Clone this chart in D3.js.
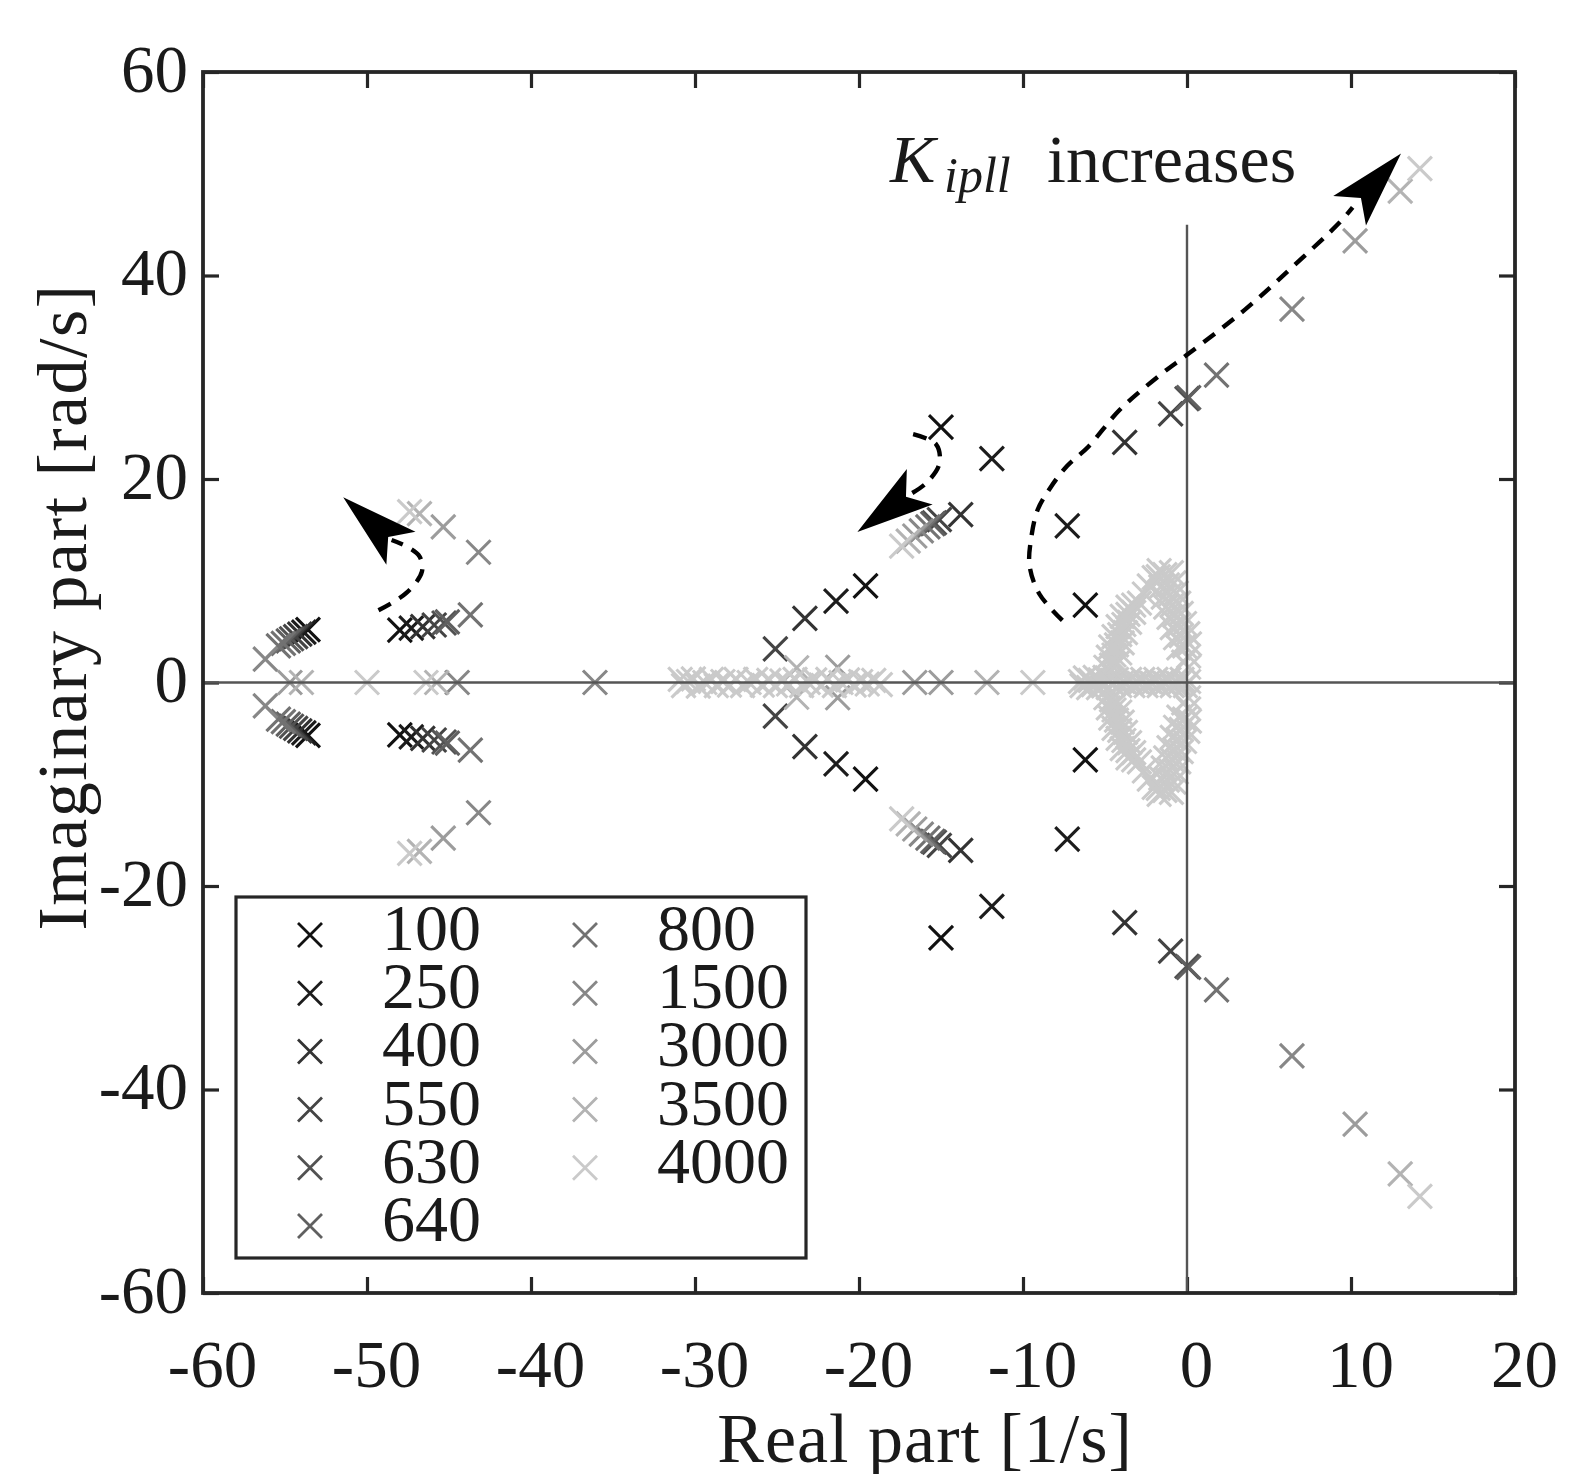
<!DOCTYPE html>
<html>
<head>
<meta charset="utf-8">
<script src="https://cdn.jsdelivr.net/npm/d3@7"></script>
<style>
body { margin: 0; background: #fff; }
text { font-family: "Liberation Serif", "DejaVu Serif", serif; fill: #1a1a1a; }
</style>
</head>
<body>
<div id="chart"></div>
<script>
// gains and the grey used for each
var gains = ["100", "250", "400", "550", "630", "640", "800", "1500", "3000", "3500", "4000"];
var shades = ["#111111", "#1c1c1c", "#333333", "#444444", "#525252", "#606060", "#727272", "#878787", "#9c9c9c", "#b3b3b3", "#cacaca"];

var xTicks = [-60, -50, -40, -30, -20, -10, 0, 10, 20];
var yTicks = [-60, -40, -20, 0, 20, 40, 60];

// closed loop poles [real, imag]
var p100 = [[-53.6, 5.2], [-53.6, -5.2], [-48.0, 5.15], [-48.0, -5.15], [-19.6, 9.5], [-19.6, -9.5],
  [-15.0, 25.1], [-15.0, -25.1], [-6.2, 7.6], [-6.2, -7.6]];
var p250 = [[-53.85, 4.95], [-53.85, -4.95], [-47.3, 5.35], [-47.3, -5.35], [-21.4, 8.0], [-21.4, -8.0],
  [-11.9, 22.0], [-11.9, -22.0], [-7.3, 15.4], [-7.3, -15.4]];
var p400 = [[-54.1, 4.75], [-54.1, -4.75], [-46.6, 5.5], [-46.6, -5.5], [-23.3, 6.3], [-23.3, -6.3],
  [-13.8, 16.5], [-13.8, -16.5], [-3.8, 23.6], [-3.8, -23.6]];
var p550 = [[-54.35, 4.5], [-54.35, -4.5], [-45.9, 5.65], [-45.9, -5.65], [-25.1, 3.3], [-25.1, -3.3],
  [-15.1, 16.0], [-15.1, -16.0], [-1.0, 26.4], [-1.0, -26.4]];
var p630 = [[-54.6, 4.3], [-54.6, -4.3], [-45.3, 5.85], [-45.3, -5.85], [-15.4, 15.7], [-15.4, -15.7],
  [0.0, 27.9], [0.0, -27.9]];
var p640 = [[-54.8, 4.1], [-54.8, -4.1], [-45.1, 5.95], [-45.1, -5.95], [-15.5, 15.6], [-15.5, -15.6],
  [0.1, 28.0], [0.1, -28.0]];
var p800 = [[-55.1, 3.85], [-55.1, -3.85], [-55.4, 3.6], [-55.4, -3.6], [-43.7, 6.65], [-43.7, -6.65],
  [-15.8, 15.3], [-15.8, -15.3], [1.8, 30.2], [1.8, -30.2]];
var p1500 = [[-56.2, 2.3], [-56.2, -2.3], [-44.5, 0], [-43.2, 12.8], [-43.2, -12.8], [-36.1, 0],
  [-16.2, 14.9], [-16.2, -14.9], [6.4, 36.7], [6.4, -36.7]];
var p3000 = [[-54.7, 0], [-45.35, 15.3], [-45.35, -15.3], [-16.6, 14.4], [-16.6, -14.4], [-21.3, 1.5],
  [-21.3, -1.5], [-16.6, 0], [-15.0, 0], [10.25, 43.4], [10.25, -43.4]];
var p3500 = [[-54.0, 0], [-45.75, 0], [-46.8, 16.6], [-46.8, -16.6], [-17.0, 13.9], [-17.0, -13.9],
  [-23.8, 1.45], [-23.8, -1.45], [-12.2, 0], [13.0, 48.3], [13.0, -48.3]];
var p4000 = [[-50.0, 0], [-46.4, 0], [-47.4, 16.8], [-47.4, -16.8], [-17.4, 13.4], [-17.4, -13.4],
  [-9.4, 0], [14.2, 50.5], [14.2, -50.5]];
// the smear of poles on the real axis between -31 and -18
var p4000Real = [[-30.9, 0.3], [-30.7, -0.3], [-30.4, 0.1], [-30.1, 0.35], [-29.8, -0.35], [-29.4, 0],
  [-29.0, 0.3], [-28.7, -0.3], [-28.3, 0.1], [-27.9, -0.25], [-27.5, 0.3], [-27.1, -0.3], [-26.7, 0],
  [-26.3, 0.3], [-25.9, -0.25], [-25.5, 0.2], [-25.1, -0.3], [-24.7, 0.15], [-24.3, -0.15], [-23.9, 0.3],
  [-23.5, -0.3], [-23.1, 0], [-22.7, 0.25], [-22.3, -0.25], [-21.9, 0.3], [-21.5, -0.3], [-21.1, 0],
  [-20.7, 0.25], [-20.3, -0.25], [-19.9, 0.1], [-19.5, -0.15], [-19.1, 0.2], [-18.7, -0.2]];
// the two lobes of poles next to the origin, upper half
var p4000LoopUp = [
  [-6.5, 0.1], [-6.2, 0.45], [-5.9, 0.2], [-5.6, 0.5], [-5.3, 0.25], [-5.0, 0.5], [-4.7, 0.2], [-4.3, 0.3],
  [-3.9, 0.1], [-3.5, 0.3], [-3.1, 0.1], [-2.7, 0.3], [-2.3, 0.1], [-1.9, 0.3], [-1.5, 0.1], [-1.1, 0.3],
  [-0.7, 0.1], [-0.3, 0.3], [0.1, 0.1],
  [-4.95, 1.5], [-4.8, 2.5], [-4.65, 3.5], [-4.45, 4.5], [-4.2, 5.5], [-3.95, 6.5], [-3.6, 7.4],
  [-4.6, 1.7], [-4.45, 2.7], [-4.3, 3.7], [-4.1, 4.7], [-3.85, 5.7], [-3.6, 6.7], [-3.25, 7.6],
  [-4.25, 1.9], [-4.1, 2.9], [-3.95, 3.9], [-3.75, 4.9], [-3.5, 5.9], [-3.25, 6.9], [-2.9, 7.8],
  [-2.6, 8.7], [-2.3, 9.5], [-2.0, 10.3], [-1.7, 11.0],
  [-1.75, 10.4], [-1.6, 9.4], [-1.45, 8.4], [-1.3, 7.4], [-1.1, 6.4], [-0.9, 5.4], [-0.7, 4.4], [-0.5, 3.4],
  [-1.35, 10.6], [-1.2, 9.6], [-1.05, 8.6], [-0.9, 7.6], [-0.75, 6.6], [-0.55, 5.6], [-0.35, 4.6], [-0.15, 3.6],
  [-0.95, 10.8], [-0.8, 9.8], [-0.65, 8.8], [-0.5, 7.8], [-0.35, 6.8], [-0.15, 5.8], [0.05, 4.8], [0.15, 3.8],
  [0.1, 2.6], [0.1, 1.5], [-0.2, 2.0]];
// and lower half
var p4000LoopDown = [
  [-6.4, -0.3], [-6.0, -0.5], [-5.7, -0.2], [-5.4, -0.5], [-5.1, -0.3], [-4.8, -0.5], [-4.5, -0.2], [-4.1, -0.3],
  [-3.7, -0.1], [-3.3, -0.3], [-2.9, -0.1], [-2.5, -0.3], [-2.1, -0.1], [-1.7, -0.3], [-1.3, -0.1], [-0.9, -0.3],
  [-0.5, -0.1], [-0.1, -0.3],
  [-4.95, -1.5], [-4.8, -2.5], [-4.65, -3.5], [-4.45, -4.5], [-4.2, -5.5], [-3.95, -6.5], [-3.6, -7.4],
  [-4.6, -1.7], [-4.45, -2.7], [-4.3, -3.7], [-4.1, -4.7], [-3.85, -5.7], [-3.6, -6.7], [-3.25, -7.6],
  [-4.25, -1.9], [-4.1, -2.9], [-3.95, -3.9], [-3.75, -4.9], [-3.5, -5.9], [-3.25, -6.9], [-2.9, -7.8],
  [-2.6, -8.7], [-2.3, -9.5], [-2.0, -10.3], [-1.7, -11.0],
  [-1.75, -10.4], [-1.6, -9.4], [-1.45, -8.4], [-1.3, -7.4], [-1.1, -6.4], [-0.9, -5.4], [-0.7, -4.4], [-0.5, -3.4],
  [-1.35, -10.6], [-1.2, -9.6], [-1.05, -8.6], [-0.9, -7.6], [-0.75, -6.6], [-0.55, -5.6], [-0.35, -4.6], [-0.15, -3.6],
  [-0.95, -10.8], [-0.8, -9.8], [-0.65, -8.8], [-0.5, -7.8], [-0.35, -6.8], [-0.15, -5.8], [0.05, -4.8], [0.15, -3.8],
  [0.1, -2.6], [0.1, -1.5], [-0.2, -2.0]];

var poles = [p100, p250, p400, p550, p630, p640, p800, p1500, p3000, p3500,
  p4000.concat(p4000Real, p4000LoopUp, p4000LoopDown)];

// dashed "K increases" arrows, in data units (last point is the arrow tip)
var arrowLeft = [[-49.3, 7.1], [-47.6, 8.8], [-46.65, 10.9], [-46.8, 12.4], [-47.5, 13.3], [-48.5, 14.0], [-51.45, 18.2]];
var arrowMid = [[-16.7, 24.4], [-15.3, 23.4], [-15.1, 21.5], [-15.9, 19.6], [-17.1, 18.3], [-20.1, 14.8]];
var arrowRight = [[-7.6, 6.1], [-9.0, 8.7], [-9.6, 11.5], [-9.5, 14.2], [-9.1, 17.0], [-8.35, 19.1], [-7.3, 21.3],
  [-6.0, 23.2], [-4.1, 26.8], [-1.5, 30.4], [0, 32.2], [3.5, 36.6], [6.4, 40.8], [9.3, 45.2], [10.1, 46.7], [13.05, 52.0]];

var W = 1571, H = 1474;
var svg = d3.select("#chart").append("svg")
  .attr("width", W)
  .attr("height", H);

var x = d3.scaleLinear().domain([-60, 20]).range([203, 1515]);
var y = d3.scaleLinear().domain([-60, 60]).range([1293, 72]);

var cross = "M-12,-12L12,12M-12,12L12,-12";

// ticks on all four sides, pointing in
var fmt = function(d){ return String(d); };
var xAxis = svg.append("g").attr("transform", "translate(0,1293)")
  .call(d3.axisBottom(x).tickValues(xTicks).tickSizeInner(-16).tickSizeOuter(0).tickPadding(46).tickFormat(fmt));
xAxis.selectAll("text").attr("dx", 9).style("font-size", "67px");
var yAxis = svg.append("g").attr("transform", "translate(203,0)")
  .call(d3.axisLeft(y).tickValues(yTicks).tickSizeInner(-16).tickSizeOuter(0).tickPadding(15).tickFormat(fmt));
yAxis.selectAll("text").attr("dy", 19).style("font-size", "67px");
svg.append("g").attr("transform", "translate(0,72)")
  .call(d3.axisTop(x).tickValues(xTicks).tickSizeInner(-16).tickSizeOuter(0).tickFormat(""));
svg.append("g").attr("transform", "translate(1515,0)")
  .call(d3.axisRight(y).tickValues(yTicks).tickSizeInner(-16).tickSizeOuter(0).tickFormat(""));
svg.selectAll(".domain").remove();
svg.selectAll(".tick line").attr("stroke", "#262626").attr("stroke-width", 3.2);
svg.selectAll(".tick text").attr("fill", "#1a1a1a").style("font-family", "'Liberation Serif', serif");

// pole markers, low gain first so the light ones sit on top
var plot = svg.append("g");
poles.forEach(function(set, i){
  plot.append("g")
    .selectAll("path")
    .data(set)
    .join("path")
    .attr("d", cross)
    .attr("transform", function(d){ return "translate(" + x(d[0]) + "," + y(d[1]) + ")"; })
    .attr("fill", "none")
    .attr("stroke", shades[i])
    .attr("stroke-width", 3.1);
});

// real and imaginary axes
svg.append("line")
  .attr("x1", x(-60)).attr("x2", x(20))
  .attr("y1", y(0)).attr("y2", y(0))
  .attr("stroke", "#555").attr("stroke-width", 2.4);
svg.append("line")
  .attr("x1", x(0)).attr("x2", x(0))
  .attr("y1", y(-60)).attr("y2", y(45))
  .attr("stroke", "#555").attr("stroke-width", 2.4);

// arrows
var curve = d3.line()
  .x(function(d){ return x(d[0]); })
  .y(function(d){ return y(d[1]); })
  .curve(d3.curveCatmullRom);

function drawArrow(pts){
  var tip = pts[pts.length - 1];
  var tx = x(tip[0]), ty = y(tip[1]);
  var prev = pts[pts.length - 2];
  var px = x(prev[0]), py = y(prev[1]);
  var len = Math.hypot(tx - px, ty - py);
  var ux = (tx - px) / len, uy = (ty - py) / len;
  var nx = -uy, ny = ux;
  var L = 77, Wd = 22, N = 60;
  svg.append("path")
    .attr("d", curve(pts.slice(0, pts.length - 1)))
    .attr("fill", "none")
    .attr("stroke", "#000")
    .attr("stroke-width", 4.4)
    .attr("stroke-dasharray", "14,10");
  var head = [
    [tx, ty],
    [tx - L * ux + Wd * nx, ty - L * uy + Wd * ny],
    [tx - N * ux, ty - N * uy],
    [tx - L * ux - Wd * nx, ty - L * uy - Wd * ny]
  ];
  svg.append("polygon")
    .attr("points", head.map(function(p){ return p.join(","); }).join(" "))
    .attr("fill", "#000");
}
drawArrow(arrowLeft);
drawArrow(arrowMid);
drawArrow(arrowRight);

// annotation
var note = svg.append("text").attr("y", 182).style("font-size", "68px");
note.append("tspan").attr("x", 890).style("font-style", "italic").text("K");
note.append("tspan").attr("x", 944).attr("dy", 10).style("font-style", "italic").style("font-size", "50px").text("ipll");
note.append("tspan").attr("x", 1047).attr("dy", -10).text("increases");

// frame
svg.append("rect")
  .attr("x", 203).attr("y", 72)
  .attr("width", 1312).attr("height", 1221)
  .attr("fill", "none")
  .attr("stroke", "#262626")
  .attr("stroke-width", 3.8);

// axis titles
svg.append("text")
  .attr("x", 925).attr("y", 1462)
  .attr("text-anchor", "middle")
  .style("font-size", "70px")
  .style("letter-spacing", "1px")
  .text("Real part [1/s]");
svg.append("text")
  .attr("transform", "translate(86,607) rotate(-90)")
  .attr("text-anchor", "middle")
  .style("font-size", "70px")
  .style("letter-spacing", "1.5px")
  .text("Imaginary part [rad/s]");

// legend
var legend = svg.append("g");
legend.append("rect")
  .attr("x", 236).attr("y", 897)
  .attr("width", 570).attr("height", 361)
  .attr("fill", "#fff")
  .attr("stroke", "#262626")
  .attr("stroke-width", 3.2);
gains.forEach(function(g, i){
  var col = i < 6 ? 0 : 1;
  var row = i < 6 ? i : i - 6;
  var mx = col === 0 ? 310 : 585;
  var cy = 935 + row * 58.2;
  legend.append("path")
    .attr("d", cross)
    .attr("transform", "translate(" + mx + "," + cy + ")")
    .attr("fill", "none")
    .attr("stroke", shades[i])
    .attr("stroke-width", 2.8);
  legend.append("text")
    .attr("x", mx + 72)
    .attr("y", cy + 15)
    .style("font-size", "66px")
    .text(g);
});
</script>
</body>
</html>
